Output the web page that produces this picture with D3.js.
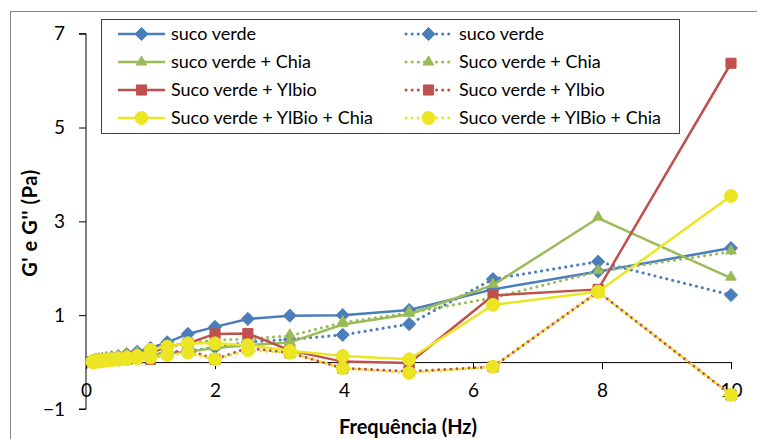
<!DOCTYPE html>
<html><head><meta charset="utf-8">
<script src="https://cdn.jsdelivr.net/npm/d3@7/dist/d3.min.js"></script>
<style>body{margin:0;background:#fff}svg{display:block}text{font-family:Lato,"Liberation Sans",sans-serif;fill:#000}</style>
</head><body><svg id="c" width="757" height="439"></svg>
<script>
const freq = [0.1,0.126,0.158,0.2,0.251,0.316,0.398,0.501,0.631,0.794,1,1.26,1.58,2,2.51,3.16,3.98,5.01,6.31,7.94,10];
const xTicks = [0,2,4,6,8,10];
const yTicks = [-1,1,3,5,7];
const seriesNames = ["suco verde","suco verde","suco verde + Chia","Suco verde + Chia","Suco verde + Ylbio","Suco verde + Ylbio","Suco verde + YlBio + Chia","Suco verde + YlBio + Chia"];
const blueSolid = [0.02,0.03,0.04,0.05,0.06,0.08,0.1,0.13,0.17,0.22,0.3,0.42,0.6,0.75,0.92,0.99,1.0,1.11,1.55,1.93,2.43];
const blueDot = [0.0,0.01,0.02,0.03,0.04,0.05,0.06,0.08,0.1,0.12,0.15,0.2,0.24,0.31,0.43,0.48,0.58,0.81,1.77,2.14,1.43];
const greenSolid = [0.01,0.02,0.03,0.04,0.05,0.06,0.07,0.09,0.11,0.13,0.16,0.19,0.22,0.3,0.36,0.42,0.8,1.02,1.64,3.07,1.79];
const greenDot = [0.02,0.03,0.04,0.05,0.06,0.08,0.1,0.12,0.15,0.19,0.24,0.32,0.4,0.47,0.49,0.56,0.84,1.05,1.37,1.93,2.35];
const redSolid = [0.01,0.02,0.02,0.03,0.04,0.05,0.06,0.08,0.1,0.13,0.19,0.33,0.4,0.6,0.61,0.25,0.01,-0.02,1.42,1.55,6.37];
const redDot = [0.0,0.01,0.01,0.02,0.02,0.03,0.04,0.05,0.06,0.08,0.06,0.19,0.26,0.06,0.3,0.2,-0.13,-0.2,-0.1,1.5,-0.7];
const yellowSolid = [0.01,0.02,0.02,0.03,0.04,0.05,0.06,0.08,0.1,0.13,0.26,0.33,0.4,0.4,0.36,0.24,0.13,0.06,1.22,1.5,3.54];
const yellowDot = [0.0,0.0,0.01,0.01,0.02,0.03,0.04,0.05,0.06,0.08,0.1,0.15,0.2,0.06,0.25,0.2,-0.13,-0.23,-0.1,1.5,-0.7];

const seriesValues = [blueSolid,blueDot,greenSolid,greenDot,redSolid,redDot,yellowSolid,yellowDot];
const colors = ["#4A7EBB","#4A7EBB","#9BBB59","#9BBB59","#C0504D","#C0504D","#EBE524","#EBE524"];
const markers = ["diamond","diamond","triangle","triangle","square","square","circle","circle"];
const dotted = [false,true,false,true,false,true,false,true];

const svg = d3.select("#c");
svg.append("rect").attr("x",10.5).attr("y",11.5).attr("width",800).attr("height",500)
  .attr("fill","#fff").attr("stroke","#868686").attr("stroke-width",1);

const x = d3.scaleLinear().domain([0,10]).range([86,731]);
const y = d3.scaleLinear().domain([-1,7]).range([409,33.7]);

// y axis
const yAxis = d3.axisLeft(y).tickValues(yTicks).tickSize(7).tickPadding(14);
const gy = svg.append("g").attr("transform","translate(86,0)").call(yAxis);
gy.selectAll("path,line").attr("stroke","#000").attr("stroke-width",1);
gy.select(".domain").attr("d",`M-7,${y(-1)}H0V${y(7)}H-7`);
gy.selectAll("text").style("font-size","19px").style("font-family","Lato,'Liberation Sans',sans-serif");

// x axis at y=0
const xAxis = d3.axisBottom(x).tickValues(xTicks).tickSize(7).tickSizeOuter(0).tickPadding(14);
const gx = svg.append("g").attr("transform",`translate(0,${y(0)})`).call(xAxis);
gx.selectAll("path,line").attr("stroke","#000").attr("stroke-width",1);
gx.selectAll("text").style("font-size","19px").style("font-family","Lato,'Liberation Sans',sans-serif");

// titles
svg.append("text").attr("x",408).attr("y",434).attr("text-anchor","middle")
  .style("font-weight","bold").style("font-size","20px").text("Frequência (Hz)");
svg.append("text").attr("transform","translate(37,223) rotate(-90)").attr("text-anchor","middle")
  .style("font-weight","bold").style("font-size","20px").style("letter-spacing","0.6px").text("G' e G'' (Pa)");

const sym = {
  diamond: d3.symbol().type(d3.symbolDiamond2).size(110),
  triangle: d3.symbol().type(d3.symbolTriangle2).size(80),
  square: d3.symbol().type(d3.symbolSquare2).size(130),
  circle: d3.symbol().type(d3.symbolCircle).size(130)
};
function markerShape(kind){ return sym[kind](); }

const line = d3.line().x(d=>x(d[0])).y(d=>y(d[1]));
seriesValues.forEach((vals,i)=>{
  const pts = freq.map((f,j)=>[f,vals[j]]);
  const g = svg.append("g");
  g.append("path").attr("d",line(pts)).attr("fill","none").attr("stroke",colors[i])
    .attr("stroke-width",dotted[i]?3:2.5)
    .attr("stroke-linecap",dotted[i]?"round":"butt")
    .attr("stroke-linejoin","round")
    .attr("stroke-dasharray",dotted[i]?"0.1,6":null);
  g.selectAll("path.m").data(pts).enter().append("path").attr("class","m")
    .attr("d",()=>markerShape(markers[i]))
    .attr("transform",d=>`translate(${x(d[0])},${y(d[1])})${markers[i]==="triangle"?" translate(0,-1)":""}`)
    .attr("fill",colors[i]).attr("stroke",colors[i]).attr("stroke-width",1);
});

// legend
const lg = svg.append("g");
lg.append("rect").attr("x",101.5).attr("y",19.5).attr("width",578).attr("height",114)
  .attr("fill","#fff").attr("stroke","#404040").attr("stroke-width",1);
const rowY = [34,62,90,118];
seriesValues.forEach((v,i)=>{
  const col = i%2, row = Math.floor(i/2);
  const x0 = col===0?118:406, x1 = col===0?165:451;
  const yy = rowY[row];
  lg.append("line").attr("x1",x0).attr("x2",x1).attr("y1",yy).attr("y2",yy)
    .attr("stroke",colors[i]).attr("stroke-width",dotted[i]?3:2.5)
    .attr("stroke-linecap",dotted[i]?"round":"butt")
    .attr("stroke-dasharray",dotted[i]?"0.1,6":null);
  lg.append("path").attr("d",markerShape(markers[i]))
    .attr("transform",`translate(${(x0+x1)/2},${yy})`)
    .attr("fill",colors[i]).attr("stroke",colors[i]);
  lg.append("text").attr("x",col===0?171:459).attr("y",yy).attr("dy","0.35em")
    .style("font-size","18px").text(seriesNames[i]);
});
</script></body></html>
